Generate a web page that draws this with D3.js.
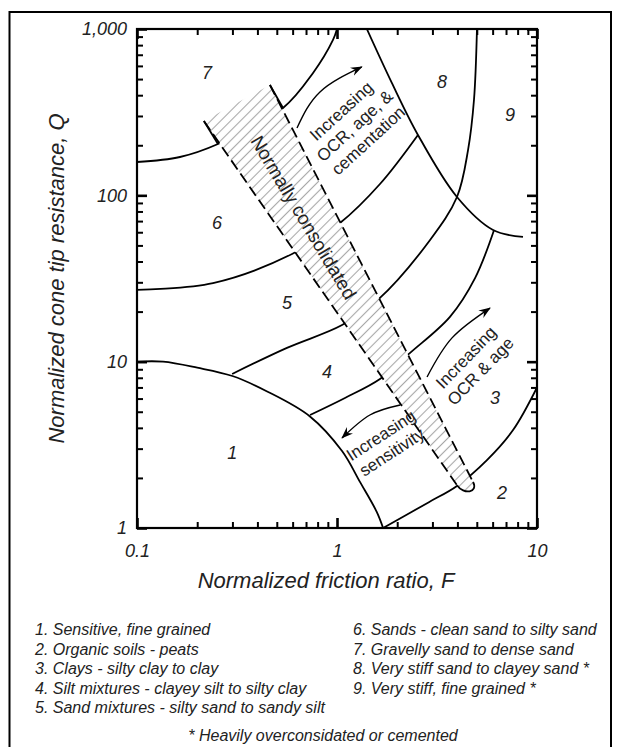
<!DOCTYPE html>
<html>
<head>
<meta charset="utf-8">
<script src="https://cdn.jsdelivr.net/npm/d3@7"></script>
<style>
  html, body { margin: 0; padding: 0; background: #fff; }
  svg { display: block; font-family: "Liberation Sans", Arial, Helvetica, sans-serif; }
</style>
</head>
<body>
<svg id="chart" width="621" height="747"></svg>
<script>
// ---- axis extents and labelled ticks ----
const fDomain = [0.1, 10];
const qDomain = [1, 1000];
const fTickLabels = [0.1, 1, 10];
const qTickLabels = [1, 10, 100, 1000];

// ---- soil behaviour type boundaries, [F (%), Q] ----
const zone1Boundary = [[0.1, 10], [0.135, 10], [0.2, 9.2], [0.3, 8.2], [0.45, 6.6], [0.73, 4.7], [1.06, 2.9], [1.3, 1.9], [1.58, 1.25], [1.7, 1]];
const zone2Boundary = [[1.7, 1], [2.88, 1.43], [3.98, 1.79], [5.62, 2.56], [7.59, 3.88], [10, 7.0]];
const zone3Boundary = [[0.733, 4.78], [1.096, 6.05], [1.64, 7.87], [2.32, 11.3], [3.67, 18.6], [4.9, 31.8], [6.1, 61.9]];
const zone4Boundary = [[0.299, 8.43], [0.562, 12.1], [1.06, 16.6], [1.6, 23.5], [2.92, 53.9], [3.98, 97.7], [4.52, 187], [4.84, 374], [5.01, 1000]];
const zone5Boundary = [[0.1, 27.0], [0.24, 29.7], [0.596, 44.4], [1.035, 68.2], [1.64, 117], [2.54, 230.7]];
const zone7Boundary = [[0.1, 158.6], [0.164, 170], [0.254, 203.5], [0.537, 335], [0.759, 544], [0.955, 859], [1.0, 1000]];
const zone8Boundary = [[1.41, 1000], [1.88, 474], [2.54, 230.7], [3.98, 97.7], [6.03, 61.9], [8.51, 56.2]];

// ---- normally consolidated band ----
const bandLowerEdge = [[0.216, 280], [3.98, 1.81]];
const bandUpperEdge = [[0.462, 461], [4.79, 1.89]];
const bandSolidEnds = [[0.254, 203.5], [0.537, 335]];
const bandLabel = "Normally consolidated";
const bandLabelAt = [0.68, 73.6];

// ---- zone numbers ----
const zoneNames = ["1", "2", "3", "4", "5", "6", "7", "8", "9"];
const zoneF = [0.299, 6.68, 6.17, 0.891, 0.562, 0.251, 0.224, 3.35, 7.33];
const zoneQ = [2.82, 1.62, 6.05, 8.67, 22.5, 68.2, 544, 480, 304];

// ---- trend notes and arrows ----
const noteLines = [["Increasing", "OCR, age, &", "cementation"], ["Increasing", "OCR & age"], ["Increasing", "sensitivity"]];
const noteAt = [[1.23, 261], [4.81, 9.61], [1.77, 3.2]];
const arrowPaths = [
  [[0.631, 254], [0.822, 418], [1.33, 591]],
  [[2.82, 8.09], [3.76, 13.9], [5.82, 21.0]],
  [[2.07, 5.49], [1.46, 4.78], [1.06, 3.48]]
];

// ---- legend ----
const legendLeft = ["1. Sensitive, fine grained", "2. Organic soils - peats", "3. Clays - silty clay to clay",
  "4. Silt mixtures - clayey silt to silty clay", "5. Sand mixtures - silty sand to sandy silt"];
const legendRight = ["6. Sands - clean sand to silty sand", "7. Gravelly sand to dense sand",
  "8. Very stiff sand to clayey sand *", "9. Very stiff, fine grained *"];
const footnote = "* Heavily overconsidated or cemented";
const xTitle = "Normalized friction ratio, F";
const yTitle = "Normalized cone tip resistance, Q";

// ================= drawing =================
const svg = d3.select("#chart");
const plot = { left: 137, right: 537, top: 29, bottom: 528 };
const ink = "#222";
const noteAngle = [-42.5, -46, -33];

const x = d3.scaleLog().domain(fDomain).range([plot.left, plot.right]);
const y = d3.scaleLog().domain(qDomain).range([plot.bottom, plot.top]);

// outer frame (open at the bottom)
svg.append("path")
  .attr("d", `M9.5,760 V12 H611 V760`)
  .attr("fill", "none").attr("stroke", "#000").attr("stroke-width", 2);

const defs = svg.append("defs");
defs.append("clipPath").attr("id", "plotClip")
  .append("rect").attr("x", plot.left).attr("y", plot.top)
  .attr("width", plot.right - plot.left).attr("height", plot.bottom - plot.top);

const hatch = defs.append("pattern").attr("id", "hatch")
  .attr("patternUnits", "userSpaceOnUse").attr("width", 7).attr("height", 7)
  .attr("patternTransform", "rotate(45)");
hatch.append("line").attr("x1", 3.5).attr("y1", 0).attr("x2", 3.5).attr("y2", 7)
  .attr("stroke", "#a8a8a8").attr("stroke-width", 1.1);

defs.append("marker").attr("id", "arrowHead")
  .attr("viewBox", "0 0 12 10").attr("refX", 11).attr("refY", 5)
  .attr("markerWidth", 12).attr("markerHeight", 10)
  .attr("markerUnits", "userSpaceOnUse").attr("orient", "auto")
  .append("path").attr("d", "M0,0.5 L12,5 L0,9.5 L4,5 Z").attr("fill", "#000");

const body = svg.append("g").attr("clip-path", "url(#plotClip)");

const curveLine = d3.line()
  .x(d => x(d[0])).y(d => y(d[1]))
  .curve(d3.curveCatmullRom.alpha(0.5));

[zone1Boundary, zone2Boundary, zone3Boundary, zone4Boundary, zone5Boundary, zone7Boundary, zone8Boundary]
  .forEach(pts => {
    body.append("path").attr("d", curveLine(pts))
      .attr("fill", "none").attr("stroke", "#000").attr("stroke-width", 1.8);
  });

// band outline in screen space: straight edges in log-log, rounded lower end
const p = d => [x(d[0]), y(d[1])];
const L0 = p(bandLowerEdge[0]), L1 = p(bandLowerEdge[1]);
const U0 = p(bandUpperEdge[0]), U1 = p(bandUpperEdge[1]);
function unit(a, b) { const dx = b[0] - a[0], dy = b[1] - a[1], n = Math.hypot(dx, dy); return [dx / n, dy / n]; }
const dL = unit(L0, L1), dU = unit(U0, U1);
const capReach = 12;
const c1 = [L1[0] + dL[0] * capReach, L1[1] + dL[1] * capReach];
const c2 = [U1[0] + dU[0] * capReach, U1[1] + dU[1] * capReach];

const band = d3.path();
band.moveTo(...L0); band.lineTo(...L1);
band.bezierCurveTo(c1[0], c1[1], c2[0], c2[1], U1[0], U1[1]);
band.lineTo(...U0); band.closePath();

body.append("path").attr("d", band.toString()).attr("fill", "#fff");
body.append("path").attr("d", band.toString()).attr("fill", "url(#hatch)");

const edge = d3.line().x(d => x(d[0])).y(d => y(d[1]));
[bandLowerEdge, bandUpperEdge].forEach((e, i) => {
  body.append("path").attr("d", edge(e))
    .attr("fill", "none").attr("stroke", "#000").attr("stroke-width", 1.8)
    .attr("stroke-dasharray", "11,5");
  body.append("path").attr("d", edge([e[0], bandSolidEnds[i]]))
    .attr("fill", "none").attr("stroke", "#000").attr("stroke-width", 1.8);
});
const cap = d3.path();
cap.moveTo(...L1);
cap.bezierCurveTo(c1[0], c1[1], c2[0], c2[1], U1[0], U1[1]);
body.append("path").attr("d", cap.toString())
  .attr("fill", "none").attr("stroke", "#000").attr("stroke-width", 1.8);

// band label, rotated along the band
const bandAngle = Math.atan2((L1[1] - L0[1]) + (U1[1] - U0[1]), (L1[0] - L0[0]) + (U1[0] - U0[0])) * 180 / Math.PI;
svg.append("text")
  .attr("transform", `translate(${x(bandLabelAt[0])},${y(bandLabelAt[1])}) rotate(${bandAngle})`)
  .attr("text-anchor", "middle").attr("dominant-baseline", "central")
  .attr("font-size", 19).attr("fill", ink)
  .text(bandLabel);

// trend arrows
const arrowLine = d3.line().x(d => x(d[0])).y(d => y(d[1])).curve(d3.curveNatural);
arrowPaths.forEach(a => {
  svg.append("path").attr("d", arrowLine(a))
    .attr("fill", "none").attr("stroke", "#000").attr("stroke-width", 1.4)
    .attr("marker-end", "url(#arrowHead)");
});

// trend notes
noteLines.forEach((lines, i) => {
  const lh = 20;
  const t = svg.append("text")
    .attr("transform", `translate(${x(noteAt[i][0])},${y(noteAt[i][1])}) rotate(${noteAngle[i]})`)
    .attr("text-anchor", "middle").attr("font-size", 17).attr("fill", ink);
  lines.forEach((s, k) => {
    t.append("tspan").attr("x", 0)
      .attr("y", (k - (lines.length - 1) / 2) * lh)
      .attr("dominant-baseline", "central")
      .text(s);
  });
});

// zone numbers
zoneNames.forEach((n, i) => {
  svg.append("text")
    .attr("x", x(zoneF[i])).attr("y", y(zoneQ[i]))
    .attr("text-anchor", "middle").attr("dominant-baseline", "central")
    .attr("font-size", 18).attr("font-style", "italic").attr("fill", ink)
    .text(n);
});

// ---- axes: minor ticks on all four sides, pointing inward ----
function styleAxis(g, width) {
  g.select(".domain").remove();
  g.selectAll(".tick line").attr("stroke", "#000").attr("stroke-width", width);
  g.selectAll(".tick text").attr("fill", ink).attr("font-size", 18).attr("font-style", "italic")
    .attr("font-family", "\"Liberation Sans\", Arial, sans-serif");
}
const minorF = x.ticks().filter(v => !fTickLabels.includes(v));
const minorQ = y.ticks().filter(v => !qTickLabels.some(m => Math.abs(m - v) < 1e-9));

const sides = [
  { axis: d3.axisBottom, scale: x, at: `translate(0,${plot.bottom})`, minor: minorF, major: fTickLabels, labels: true },
  { axis: d3.axisTop, scale: x, at: `translate(0,${plot.top})`, minor: minorF, major: fTickLabels, labels: false },
  { axis: d3.axisLeft, scale: y, at: `translate(${plot.left},0)`, minor: minorQ, major: qTickLabels, labels: true },
  { axis: d3.axisRight, scale: y, at: `translate(${plot.right},0)`, minor: minorQ, major: qTickLabels, labels: false }
];
const fmtF = d => (d < 1 ? d3.format(".1f")(d) : d3.format(",")(d));
const fmtQ = d3.format(",");
sides.forEach(s => {
  svg.append("g").attr("transform", s.at)
    .call(s.axis(s.scale).tickValues(s.minor).tickSizeInner(-6).tickSizeOuter(0).tickFormat(""))
    .call(g => styleAxis(g, 2));
  const majorAxis = s.axis(s.scale).tickValues(s.major).tickSizeInner(-10).tickSizeOuter(0)
    .tickPadding(s.scale === x ? 16 : 10)
    .tickFormat(s.labels ? (s.scale === x ? fmtF : fmtQ) : "");
  svg.append("g").attr("transform", s.at).call(majorAxis).call(g => styleAxis(g, 2.6));
});

// plot frame
svg.append("rect")
  .attr("x", plot.left).attr("y", plot.top)
  .attr("width", plot.right - plot.left).attr("height", plot.bottom - plot.top)
  .attr("fill", "none").attr("stroke", "#000").attr("stroke-width", 2.2);

// axis titles
svg.append("text")
  .attr("x", (plot.left + plot.right) / 2 - 11).attr("y", 588)
  .attr("text-anchor", "middle").attr("font-size", 22).attr("font-style", "italic").attr("fill", ink)
  .text(xTitle);
svg.append("text")
  .attr("transform", `translate(56,${(plot.top + plot.bottom) / 2}) rotate(-90)`)
  .attr("text-anchor", "middle").attr("dominant-baseline", "central")
  .attr("font-size", 22).attr("font-style", "italic").attr("fill", ink)
  .text(yTitle);

// legend
const legendTop = 635, legendStep = 19.5;
[[legendLeft, 35], [legendRight, 353]].forEach(([items, lx]) => {
  items.forEach((s, i) => {
    svg.append("text").attr("x", lx).attr("y", legendTop + i * legendStep)
      .attr("font-size", 16).attr("font-style", "italic").attr("fill", ink).text(s);
  });
});
svg.append("text").attr("x", 323).attr("y", 741)
  .attr("text-anchor", "middle").attr("font-size", 16).attr("font-style", "italic").attr("fill", ink)
  .text(footnote);
</script>
</body>
</html>
